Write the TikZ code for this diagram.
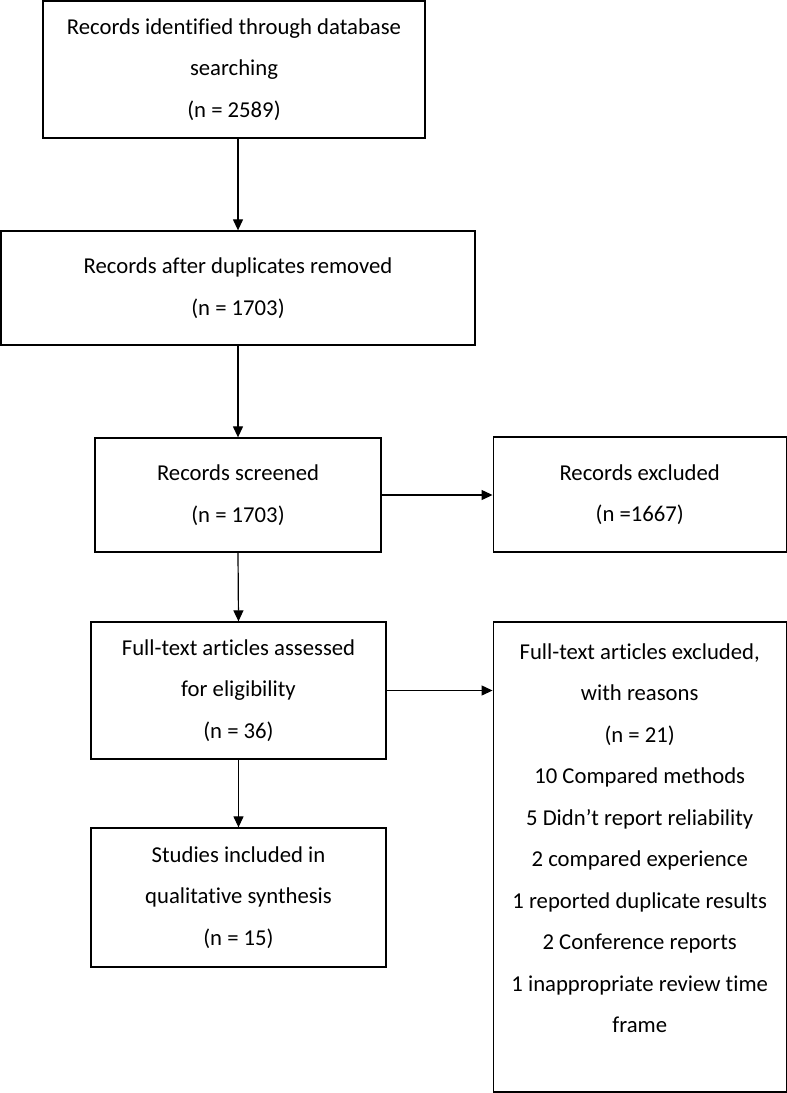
\documentclass[tikz,border=0pt]{standalone}
\usepackage{fontspec}
\setmainfont[Ligatures=NoCommon]{Carlito}
\usetikzlibrary{arrows.meta}

\begin{document}
\begin{tikzpicture}[x=1pt,y=-1pt,
  txt/.style={align=center,inner sep=0pt,font=\fontsize{22.7}{41.5}\selectfont},
  box/.style={txt,draw,line width=1.3pt},
  arr/.style={line width=1.2pt,-{Triangle[length=11pt,width=10pt]}}]
  \useasboundingbox (0,0) rectangle (787,1093);
  % left column
  \node[box,minimum width=382,minimum height=137] (ident) at (234,69.5)
    {Records identified through database\\searching\\(n = 2589)};
  \node[box,minimum width=474,minimum height=114] (dupl) at (238,288)
    {Records after duplicates removed\\(n = 1703)};
  \node[box,minimum width=286,minimum height=114] (screen) at (238,495)
    {Records screened\\(n = 1703)};
  \node[box,minimum width=295,minimum height=137] (full) at (238.5,690.5)
    {Full-text articles assessed\\for eligibility\\(n = 36)};
  \node[box,minimum width=295,minimum height=139] (incl) at (238.5,897.5)
    {Studies included in\\qualitative synthesis\\(n = 15)};
  % right column
  \node[box,minimum width=293,minimum height=115] (excl) at (639.7,494.5)
    {Records excluded\\(n =1667)};
  \node[box,minimum width=293,minimum height=470] (fullexcl) at (639.7,857) {};
  \node[txt,anchor=north] (reasons) at ([yshift=-22pt]fullexcl.north)
    {Full-text articles excluded,\\with reasons\\(n = 21)\\10 Compared methods\\
     5 Didn’t report reliability\\2 compared experience\\1 reported duplicate results\\
     2 Conference reports\\1 inappropriate review time\\frame};
  % arrows
  \draw[arr] (dupl.north |- ident.south) -- (dupl.north);
  \draw[arr] (dupl.south -| screen.north) -- (screen.north);
  \draw[arr] (screen.east) -- (screen.east -| excl.west);
  \draw[arr] (screen.south) -- (full.north);
  \draw[arr] (full.east) -- (full.east -| fullexcl.west);
  \draw[arr] (full.south) -- (incl.north);
\end{tikzpicture}
\end{document}
